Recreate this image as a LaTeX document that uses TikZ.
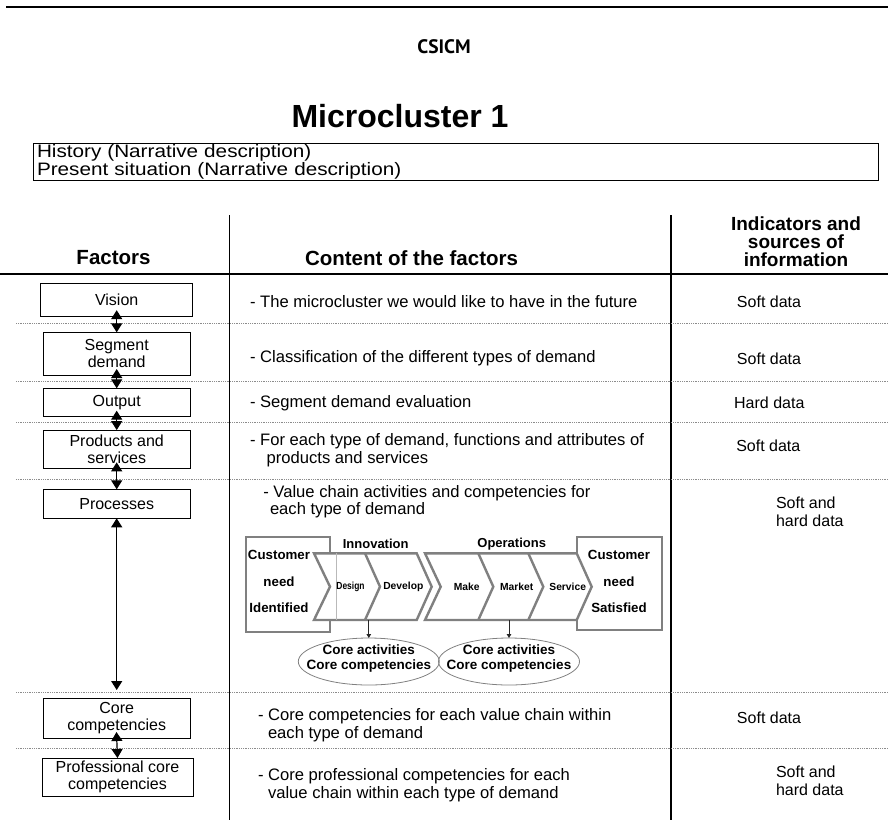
\documentclass[tikz,border=0pt]{standalone}
\usepackage{fontspec}
\usepackage{graphicx}
\setmainfont{Liberation Sans}
\newfontfamily\ptsans{PT Sans}
\newfontfamily\histfont{Liberation Sans}[FakeStretch=1.15]
\usetikzlibrary{arrows.meta,shapes.geometric}
\newcommand\fsz[2]{\fontsize{#1}{#2}\selectfont}
\definecolor{cgray}{RGB}{128,128,128}
\definecolor{sepgray}{RGB}{140,140,140}

\begin{document}
\begin{tikzpicture}[x=1pt,y=-1pt,
  every node/.style={inner sep=0pt, outer sep=0pt},
  factor/.style={draw, line width=1pt, fill=white, minimum width=147pt,
    align=center, font=\fsz{16}{17}},
  content/.style={anchor=west, align=left, font=\fsz{16.6}{17.5}},
  source/.style={font=\fsz{16}{18}, align=left},
  hdr/.style={font=\bfseries\fsz{20.5}{18}, align=center},
  sep/.style={draw=sepgray, line width=0.8pt, dash pattern=on 0.9pt off 0.9pt},
  dbl/.style={{Triangle[length=9pt,width=11pt]}-{Triangle[length=9pt,width=11pt]},
    line width=1.2pt},
  chev/.style={draw=cgray, line width=2.4pt, line join=miter},
  cbox/.style={draw=cgray, line width=1.6pt, fill=white, anchor=north west},
  clabel/.style={font=\bfseries\fsz{13.3}{26.7}, align=center},
  slabel/.style={font=\bfseries\fsz{10.3}{12}},
  smallarr/.style={-{Triangle[length=4pt,width=4.5pt]}, line width=1pt, draw=black!85},
  oval/.style={ellipse, draw=cgray, line width=0.8pt, minimum width=141pt,
    minimum height=47pt},
  ovaltext/.style={font=\bfseries\fsz{13.5}{15}, align=center}
]
\useasboundingbox (0,0) rectangle (888,820);

% page rule and headings
\draw[line width=2.5pt] (6,7) -- (888,7);
\node[font=\ptsans\bfseries\fsz{19.5}{19.5}] (csicm) at (444,47) {CSICM};
\node[font=\bfseries\fsz{32}{32}, anchor=base] (title) at (400,127) {Microcluster 1};

% narrative box
\node[draw, line width=1pt, anchor=north west, minimum width=845pt,
  text width=837pt, inner xsep=4pt, inner ysep=1.5pt, minimum height=35pt,
  align=left, font=\histfont\fsz{18}{18}] (hist) at (33,143)
  {History (Narrative description)\\Present situation (Narrative description)};

% table rules
\draw[line width=2.2pt] (0,274) -- (888,274);
\draw[line width=1.3pt] (229.5,215) -- (229.5,820);
\draw[line width=1.3pt] (671,215) -- (671,820);
\foreach \y in {323.3,381.5,422.3,479.5,692,748}
  \draw[sep] (16,\y) -- (888,\y);

% column headers
\node[hdr] (hf) at (113.5,258) {Factors};
\node[hdr] (hc) at (411.5,258) {Content of the factors};
\node[hdr, font=\bfseries\fsz{19}{18}] (hi) at (796,242) {Indicators and\\sources of\\information};

% factors
\node[factor, minimum width=152pt, minimum height=33pt] (vision) at (116.7,299.7) {Vision};
\node[factor, minimum height=42.7pt] (seg) at (116.7,353.7) {Segment\\demand};
\node[factor, minimum height=28.4pt] (out) at (116.7,402.5) {Output};
\node[factor, minimum height=38.3pt] (prod) at (116.7,449.2) {Products and\\services};
\node[factor, minimum height=29pt] (proc) at (116.7,503.8) {Processes};
\node[factor, minimum height=40pt] (core) at (116.7,718) {Core\\competencies};
\node[factor, minimum width=151pt, minimum height=38pt] (prof) at (117.5,777) {Professional core\\competencies};
\coordinate (procend) at (116.7,690);

\draw[dbl, shorten <=-6pt] (vision.south) -- (seg.north);
\draw[dbl, shorten <=-6pt] (seg.south) -- (out.north);
\draw[dbl, shorten <=-6pt] (out.south) -- (prod.north);
\draw[dbl, shorten <=-6pt] (prod.south) -- (proc.north);
\draw[dbl] (proc.south) -- (procend);
\draw[dbl, shorten <=-6pt] (core.south) -- (prof.north);

% contents
\node[content] (c1) at (250,301.7) {- The microcluster we would like to have in the future};
\node[content] (c2) at (250,358.3) {- Classification of the different types of demand};
\node[content] (c3) at (250,403.3) {- Segment demand evaluation};
\node[content] (c4) at (250,450.3) {- For each type of demand, functions and attributes of\\\hspace*{16.7pt}products and services};
\node[content] (c5) at (263.3,501.7) {- Value chain activities and competencies for\\\hspace*{6.7pt}each type of demand};
\node[content] (c6) at (258,725) {- Core competencies for each value chain within\\\hspace*{10pt}each type of demand};
\node[content] (c7) at (258,785) {- Core professional competencies for each\\\hspace*{10pt}value chain within each type of demand};

% sources
\node[source] (s1) at (769,302) {Soft data};
\node[source] (s2) at (769,358.3) {Soft data};
\node[source] (s3) at (769.3,402.7) {Hard data};
\node[source] (s4) at (768.3,446) {Soft data};
\node[source, anchor=west] (s5) at (776,512) {Soft and\\hard data};
\node[source] (s6) at (769,718) {Soft data};
\node[source, anchor=west] (s7) at (776,781) {Soft and\\hard data};

% value chain
\node[cbox, minimum width=84pt, minimum height=95pt] (need1) at (246,536.7) {};
\node[cbox, minimum width=85pt, minimum height=93.3pt] (need2) at (576.7,536.7) {};
\draw[chev, fill=white] (314,553.3) -- (416.7,553.3) -- (431.7,586.7) -- (416.7,620)
  -- (314,620) -- (330,586.7) -- cycle;
\draw[gray!55, line width=0.8pt] (336,553.3) -- (336,620);
\draw[chev] (365,553.3) -- (380,586.7) -- (365,620);
\draw[chev, fill=white] (425,553.3) -- (576.7,553.3) -- (591.7,586.7) -- (576.7,620)
  -- (425,620) -- (440.7,586.7) -- cycle;
\draw[chev] (478.3,553.3) -- (493.3,586.7) -- (478.3,620);
\draw[chev] (528.3,553.3) -- (543.3,586.7) -- (528.3,620);

\node[clabel] (t1) at (279,581.7) {Customer\\need\\Identified};
\node[clabel] (t2) at (619,581.7) {Customer\\need\\Satisfied};
\node[font=\bfseries\fsz{13}{13}] (inn) at (375.7,544) {Innovation};
\node[font=\bfseries\fsz{13}{13}] (ops) at (511.7,544) {Operations};
\node[slabel] (l1) at (350.5,586.7) {\scalebox{0.82}[1]{Design}};
\node[slabel] (l2) at (403.3,586.7) {Develop};
\node[slabel] (l3) at (466.7,586.7) {Make};
\node[slabel] (l4) at (516.7,586.7) {Market};
\node[slabel] (l5) at (567.7,586.7) {Service};

\node[oval] (ell1) at (368.8,661.5) {};
\node[oval] (ell2) at (509,661.5) {};
\node[ovaltext] (e1t) at (368.8,658) {Core activities\\Core competencies};
\node[ovaltext] (e2t) at (509,658) {Core activities\\Core competencies};
\coordinate (innb) at (368.8,620);
\coordinate (opsb) at (509,620);
\draw[smallarr] (innb) -- (ell1.north);
\draw[smallarr] (opsb) -- (ell2.north);
\end{tikzpicture}
\end{document}
